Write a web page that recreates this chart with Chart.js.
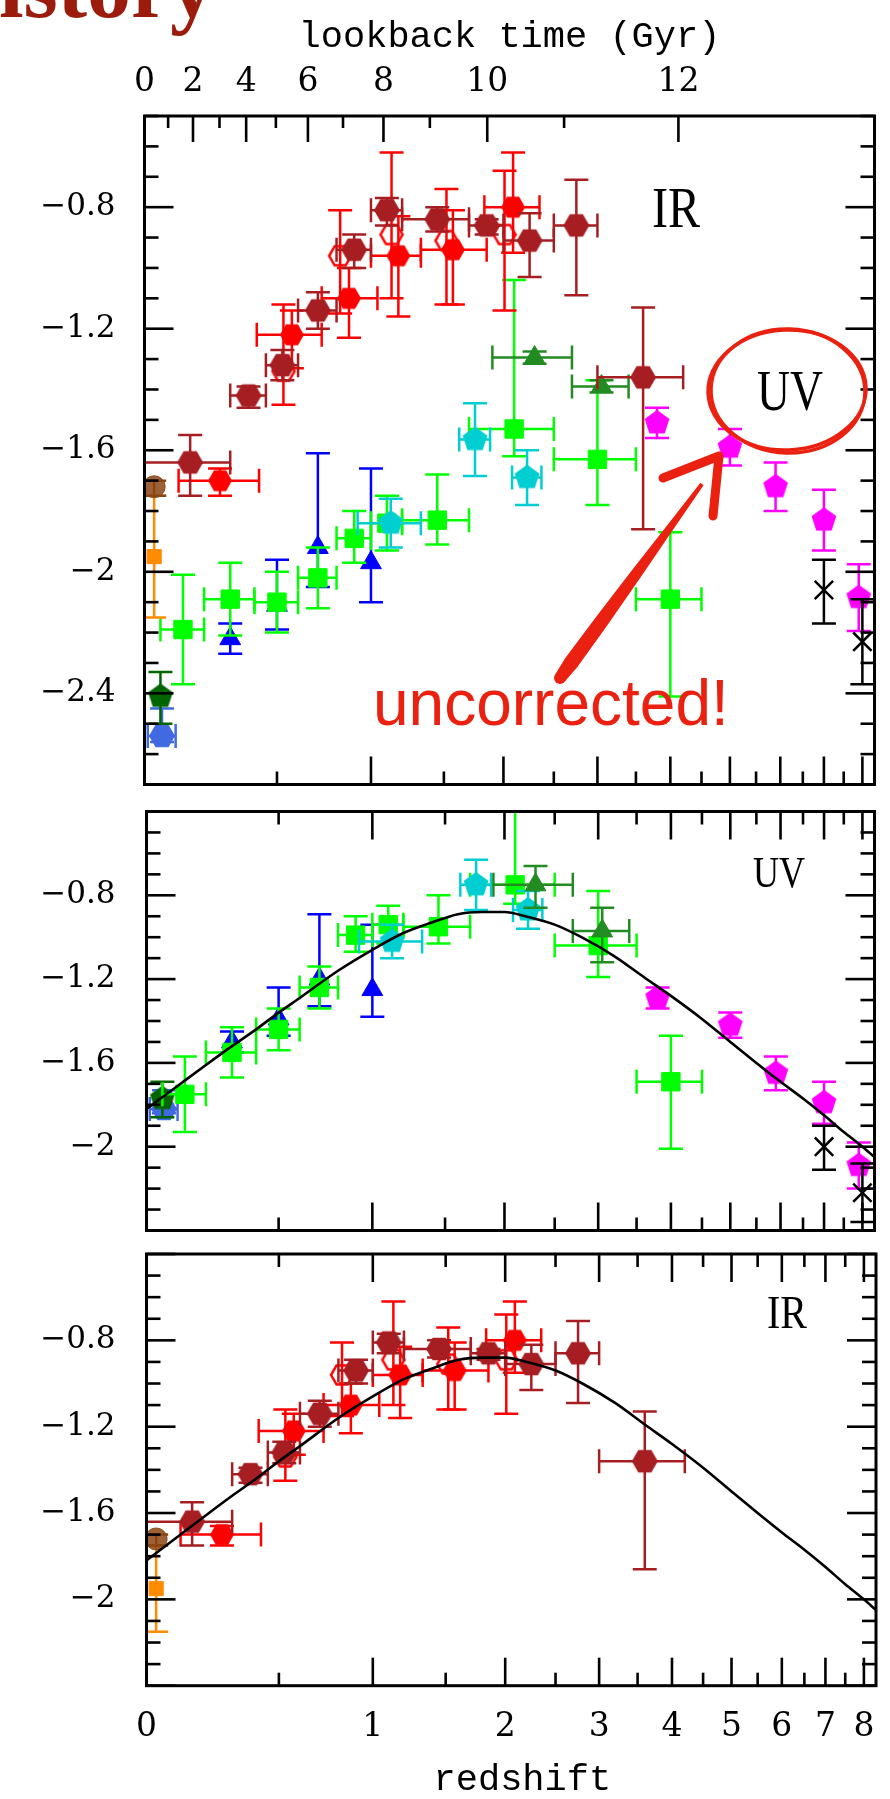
<!DOCTYPE html>
<html>
<head>
<meta charset="utf-8">
<script src="https://cdn.jsdelivr.net/npm/chart.js@4.4.1/dist/chart.umd.min.js"></script>
<style>
  html, body { margin: 0; padding: 0; background: #fff; }
  body { width: 890px; height: 1799px; position: relative; overflow: hidden; }
  canvas { position: absolute; left: 0; }
  #topPanel { top: 0; }
  #uvPanel { top: 796px; }
  #irPanel { top: 1240px; }
</style>
</head>
<body>
<canvas id="topPanel" width="890" height="800"></canvas>
<canvas id="uvPanel" width="890" height="450"></canvas>
<canvas id="irPanel" width="890" height="559"></canvas>
<script>
// ---- axis ticks ----
const zMajor = [0, 1, 2, 3, 4, 5, 6, 7, 8];
const zMinor = [0.5, 1.5, 2.5, 3.5, 4.5, 5.5, 6.5, 7.5];
const lookbackGyr = [0, 1, 2, 3, 4, 5, 6, 7, 8, 9, 10, 11, 12];
const lookbackZ = [0, 0.075, 0.16, 0.258, 0.365, 0.495, 0.649, 0.836, 1.078, 1.395, 1.855, 2.612, 4.125];
const yTicksTop = [-0.8, -1.2, -1.6, -2, -2.4];
const yTicksLow = [-0.8, -1.2, -1.6, -2];

// ---- UV data (log SFR density), z = redshift ----
const wyderZ = [0.055], wyderZlo = [0.01], wyderZhi = [0.1];
const wyderRaw = [-2.54], wyderCorr = [-1.82], wyderUp = [0.09], wyderDn = [0.02];

const robothamZ = [0.05];
const robothamRaw = [-2.41], robothamCorr = [-1.77], robothamUp = [0.08], robothamDn = [0.09];

const schimZ = [0.3, 0.5, 0.7, 1.0];
const schimRaw = [-2.22, -2.11, -1.92, -1.97];
const schimCorr = [-1.50, -1.39, -1.20, -1.25];
const schimUp = [0.05, 0.15, 0.31, 0.31], schimDn = [0.05, 0.08, 0.13, 0.13];

const cucciatiZ = [0.125, 0.3, 0.5, 0.7, 0.9, 1.1, 1.45, 2.1, 3.0, 4.0];
const cucciatiZlo = [0.05, 0.2, 0.4, 0.6, 0.8, 1.0, 1.2, 1.7, 2.5, 3.5];
const cucciatiZhi = [0.2, 0.4, 0.6, 0.8, 1.0, 1.2, 1.7, 2.5, 3.5, 4.5];
const cucciatiRaw = [-2.19, -2.09, -2.10, -2.02, -1.89, -1.84, -1.83, -1.53, -1.63, -2.09];
const cucciatiCorr = [-1.75, -1.55, -1.44, -1.24, -0.99, -0.94, -0.95, -0.75, -1.04, -1.69];
const cucciatiUp = [0.18, 0.12, 0.10, 0.10, 0.09, 0.09, 0.15, 0.49, 0.26, 0.22];
const cucciatiDn = [0.18, 0.12, 0.10, 0.10, 0.08, 0.09, 0.08, 0.09, 0.15, 0.32];

const dahlenZ = [1.125, 1.75, 2.225], dahlenZlo = [0.92, 1.62, 2.08], dahlenZhi = [1.33, 1.88, 2.37];
const dahlenRaw = [-1.84, -1.565, -1.69], dahlenCorr = [-1.02, -0.75, -0.87];
const dahlenUp = [0.08, 0.12, 0.09], dahlenDn = [0.08, 0.12, 0.09];

const reddyZ = [2.3, 3.05], reddyZlo = [1.9, 2.7], reddyZhi = [2.7, 3.4];
const reddyRaw = [-1.295, -1.39], reddyRawErr = [0.02, 0.02];
const reddyCorr = [-0.75, -0.97], reddyUp = [0.09, 0.11], reddyDn = [0.11, 0.15];

const bouwensZ = [3.8, 5.0, 5.9, 7.0, 7.9];
const bouwensRaw = [-1.51, -1.59, -1.72, -1.83, -2.085];
const bouwensCorr = [-1.29, -1.42, -1.65, -1.79, -2.09];
const bouwensErr = [0.05, 0.06, 0.08, 0.10, 0.11];

const schenkerZ = [7.0, 8.0];
const schenkerRaw = [-2.06, -2.23], schenkerCorr = [-2.00, -2.22];
const schenkerUp = [0.10, 0.14], schenkerDn = [0.11, 0.14];

// ---- IR data ----
const sandersZ = [0.03], sandersVal = [-1.72], sandersUp = [0.02], sandersDn = [0.03];
const takeuchiZ = [0.03], takeuchiVal = [-1.95], takeuchiErr = [0.20];

const magnelli11Z = [0.53, 0.82, 1.13, 1.52, 2.01];
const magnelli11Val = [-1.34, -0.96, -0.89, -0.91, -0.89];
const magnelli11Up = [0.22, 0.15, 0.27, 0.17, 0.21], magnelli11Dn = [0.11, 0.19, 0.21, 0.21, 0.25];

const magnelli13Z = [0.26, 0.57, 0.87, 1.175, 1.57, 2.09];
const magnelli13Zlo = [0.11, 0.41, 0.72, 1.0, 1.33, 1.83];
const magnelli13Zhi = [0.42, 0.72, 1.04, 1.33, 1.85, 2.35];
const magnelli13Val = [-1.70, -1.22, -1.10, -0.96, -0.94, -0.80];
const magnelli13Up = [0.04, 0.08, 0.10, 0.13, 0.13, 0.18], magnelli13Dn = [0.05, 0.11, 0.13, 0.20, 0.18, 0.15];

const gruppZ = [0.15, 0.375, 0.525, 0.7, 0.9, 1.1, 1.45, 1.85, 2.25, 2.75, 3.6];
const gruppZlo = [0, 0.3, 0.45, 0.6, 0.8, 1.0, 1.2, 1.7, 2.0, 2.5, 3.0];
const gruppZhi = [0.3, 0.45, 0.6, 0.8, 1.0, 1.2, 1.7, 2.0, 2.5, 3.0, 4.2];
const gruppVal = [-1.64, -1.42, -1.32, -1.14, -0.94, -0.81, -0.84, -0.86, -0.91, -0.86, -1.36];
const gruppUp = [0.09, 0.03, 0.05, 0.06, 0.05, 0.04, 0.04, 0.02, 0.09, 0.15, 0.23];
const gruppDn = [0.11, 0.04, 0.05, 0.06, 0.06, 0.05, 0.04, 0.03, 0.12, 0.23, 0.50];

// ---- fit curve ----
const curveZ = [0, 0.1, 0.2, 0.3, 0.4, 0.5, 0.6, 0.8, 1.0, 1.2, 1.4, 1.6, 1.8, 2.0, 2.2, 2.5, 2.8, 3.2, 3.6, 4.0, 4.5, 5.0, 5.5, 6.0, 6.5, 7.0, 7.5, 8.0, 8.34];
const curveVal = [-1.82, -1.71, -1.61, -1.52, -1.44, -1.36, -1.29, -1.16, -1.06, -0.98, -0.93, -0.89, -0.88, -0.88, -0.90, -0.94, -1.00, -1.09, -1.19, -1.28, -1.39, -1.50, -1.60, -1.69, -1.77, -1.85, -1.93, -2.00, -2.05];

const X_MAX = 9.34;
const NUM_FONT = 'DejaVu Serif';
const TITLE_FONT = 'Liberation Mono';

function pts(z, v, up, dn, zLo, zHi) {
  return z.map((zz, i) => ({
    x: 1 + zz,
    y: v[i],
    yMax: up ? v[i] + up[i] : null,
    yMin: dn ? v[i] - dn[i] : null,
    xMin: zLo ? 1 + zLo[i] : null,
    xMax: zHi ? 1 + zHi[i] : null
  }));
}

function polyMarker(sides, r, startDeg, fill, stroke) {
  const s = Math.ceil(2 * r + 6);
  const c = document.createElement('canvas');
  c.width = s; c.height = s;
  const g = c.getContext('2d');
  g.beginPath();
  for (let k = 0; k < sides; k++) {
    const a = (startDeg + k * 360 / sides) * Math.PI / 180;
    const px = s / 2 + r * Math.cos(a), py = s / 2 + r * Math.sin(a);
    if (k === 0) g.moveTo(px, py); else g.lineTo(px, py);
  }
  g.closePath();
  if (fill) { g.fillStyle = fill; g.fill(); }
  if (stroke) { g.strokeStyle = stroke; g.lineWidth = 2.5; g.stroke(); }
  return c;
}

function marks(label, data, style, color, r, extra) {
  return Object.assign({
    label: label, data: data, showLine: false,
    pointStyle: style, pointRadius: r, pointHoverRadius: r,
    backgroundColor: color, borderColor: color, borderWidth: 1,
    errColor: color
  }, extra || {});
}

// bottom-to-top drawing order; Chart.js draws low "order" last
function stack(list) {
  list.forEach((d, i) => { d.order = list.length - i; });
  return list;
}

const hexBrown = polyMarker(6, 13, 0, '#a61e22');
const hexRed = polyMarker(6, 12, 0, '#ff0000');
const hexOpen = polyMarker(6, 11, 0, null, '#ff0000');
const hexRoyal = polyMarker(6, 13, 0, '#4169e1');
const pentDkGreen = polyMarker(5, 13, -90, '#006400');
const pentCyan = polyMarker(5, 13, -90, '#00ced1');
const pentMagenta = polyMarker(5, 13, -90, '#ff00ff');

function irSets() {
  return [
    marks('Takeuchi', pts(takeuchiZ, takeuchiVal, takeuchiErr, takeuchiErr), 'rect', '#ff8c00', 10),
    marks('Sanders', pts(sandersZ, sandersVal, sandersUp, sandersDn), 'circle', 'rgba(139,69,19,0.85)', 11, { errColor: '#8b4513' }),
    marks('Magnelli 2011', pts(magnelli11Z, magnelli11Val, magnelli11Up, magnelli11Dn), hexOpen, '#ff0000', 11),
    marks('Magnelli 2013', pts(magnelli13Z, magnelli13Val, magnelli13Up, magnelli13Dn, magnelli13Zlo, magnelli13Zhi), hexRed, '#ff0000', 12),
    marks('Gruppioni', pts(gruppZ, gruppVal, gruppUp, gruppDn, gruppZlo, gruppZhi), hexBrown, '#a61e22', 13)
  ];
}

function uvSets(useRaw) {
  return [
    marks('Wyder', pts(wyderZ, useRaw ? wyderRaw : wyderCorr, wyderUp, wyderDn, wyderZlo, wyderZhi), hexRoyal, '#4169e1', 13),
    marks('Schiminovich', pts(schimZ, useRaw ? schimRaw : schimCorr, schimUp, schimDn), 'triangle', '#0000ff', 12),
    marks('Robotham', pts(robothamZ, useRaw ? robothamRaw : robothamCorr, robothamUp, robothamDn), pentDkGreen, '#006400', 13),
    marks('Cucciati', pts(cucciatiZ, useRaw ? cucciatiRaw : cucciatiCorr, cucciatiUp, cucciatiDn, cucciatiZlo, cucciatiZhi), 'rect', '#00ff00', 13),
    marks('Dahlen', pts(dahlenZ, useRaw ? dahlenRaw : dahlenCorr, dahlenUp, dahlenDn, dahlenZlo, dahlenZhi), pentCyan, '#00ced1', 13),
    marks('Reddy', pts(reddyZ, useRaw ? reddyRaw : reddyCorr, useRaw ? reddyRawErr : reddyUp, useRaw ? reddyRawErr : reddyDn, reddyZlo, reddyZhi), 'triangle', '#228b22', 12),
    marks('Bouwens', pts(bouwensZ, useRaw ? bouwensRaw : bouwensCorr, bouwensErr, bouwensErr), pentMagenta, '#ff00ff', 13),
    marks('Schenker', pts(schenkerZ, useRaw ? schenkerRaw : schenkerCorr, schenkerUp, schenkerDn), 'crossRot', '#000000', 13, { borderWidth: 2.5 })
  ];
}

function curveSet() {
  return {
    label: 'fit', order: 0, showLine: true, fill: false,
    data: curveZ.map((z, i) => ({ x: 1 + z, y: curveVal[i] })),
    borderColor: '#000', borderWidth: 2.6, pointRadius: 0,
    cubicInterpolationMode: 'monotone'
  };
}

// ---- plugins ----
const errorBars = {
  id: 'errorBars',
  beforeDatasetDraw(chart, args) {
    const ds = chart.data.datasets[args.index];
    if (!ds.errColor) return;
    const ctx = chart.ctx, a = chart.chartArea;
    const xs = chart.scales.x, ys = chart.scales.y;
    const cap = 12;
    ctx.save();
    ctx.beginPath();
    ctx.rect(a.left, a.top, a.right - a.left, a.bottom - a.top);
    ctx.clip();
    ctx.strokeStyle = ds.errColor;
    ctx.lineWidth = 2.5;
    ds.data.forEach(d => {
      const px = xs.getPixelForValue(d.x), py = ys.getPixelForValue(d.y);
      ctx.beginPath();
      if (d.yMin !== null) {
        const y1 = ys.getPixelForValue(d.yMax), y2 = ys.getPixelForValue(d.yMin);
        ctx.moveTo(px, y1); ctx.lineTo(px, y2);
        ctx.moveTo(px - cap, y1); ctx.lineTo(px + cap, y1);
        ctx.moveTo(px - cap, y2); ctx.lineTo(px + cap, y2);
      }
      if (d.xMin !== null) {
        const x1 = xs.getPixelForValue(d.xMin), x2 = xs.getPixelForValue(d.xMax);
        ctx.moveTo(x1, py); ctx.lineTo(x2, py);
        ctx.moveTo(x1, py - cap); ctx.lineTo(x1, py + cap);
        ctx.moveTo(x2, py - cap); ctx.lineTo(x2, py + cap);
      }
      ctx.stroke();
    });
    ctx.restore();
  }
};

const panelFrame = {
  id: 'panelFrame',
  afterDraw(chart, args, opts) {
    const ctx = chart.ctx, a = chart.chartArea;
    const xs = chart.scales.x, ys = chart.scales.y;
    const tick = (x1, y1, x2, y2) => { ctx.beginPath(); ctx.moveTo(x1, y1); ctx.lineTo(x2, y2); ctx.stroke(); };
    ctx.save();
    ctx.strokeStyle = '#000';
    ctx.lineWidth = 2.6;
    zMajor.forEach(z => {
      const px = xs.getPixelForValue(1 + z);
      tick(px, a.bottom, px, a.bottom - 28);
      if (!opts.lookback) tick(px, a.top, px, a.top + 28);
    });
    zMinor.forEach(z => {
      const px = xs.getPixelForValue(1 + z);
      tick(px, a.bottom, px, a.bottom - 13);
      if (!opts.lookback) tick(px, a.top, px, a.top + 13);
    });
    if (opts.lookback) {
      const xt = chart.scales.xt;
      lookbackZ.forEach((z, i) => {
        const px = xt.getPixelForValue(1 + z);
        tick(px, a.top, px, a.top + (lookbackGyr[i] % 2 === 0 ? 26 : 12));
      });
    }
    for (let k = Math.round(ys.max * 10); k >= Math.round(ys.min * 10); k--) {
      const py = ys.getPixelForValue(k / 10);
      const len = k % 4 === 0 ? 29 : 14;
      tick(a.left, py, a.left + len, py);
      tick(a.right, py, a.right - len, py);
    }
    ctx.lineWidth = 3;
    ctx.strokeRect(a.left, a.top, a.right - a.left, a.bottom - a.top);
    ctx.restore();
  }
};

function squeezedText(ctx, text, x, yBase, size, sx) {
  ctx.save();
  ctx.translate(x, yBase);
  ctx.scale(sx, 1);
  ctx.font = size + 'px "Liberation Serif"';
  ctx.textAlign = 'left';
  ctx.textBaseline = 'alphabetic';
  ctx.fillStyle = '#000';
  ctx.fillText(text, 0, 0);
  ctx.restore();
}

const topNotes = {
  id: 'topNotes',
  afterDraw(chart) {
    const ctx = chart.ctx;
    ctx.save();
    // slide title, cut by the top edge
    ctx.fillStyle = '#9b1c0c';
    ctx.font = 'bold 88px "Liberation Serif"';
    ctx.textAlign = 'right';
    ctx.textBaseline = 'alphabetic';
    ctx.fillText('History', 214, 17);

    squeezedText(ctx, 'IR', 652, 227, 56, 0.86);
    squeezedText(ctx, 'UV', 757, 410, 56, 0.815);

    const red = '#ea2110';
    ctx.strokeStyle = red;
    ctx.fillStyle = red;
    ctx.lineWidth = 3.5;
    ctx.beginPath(); ctx.ellipse(787, 390, 79, 60, -0.04, 0, 2 * Math.PI); ctx.stroke();
    ctx.beginPath(); ctx.ellipse(788, 391, 77, 62, 0.03, 0, 2 * Math.PI); ctx.stroke();

    // hand-drawn arrow: tapered shaft then head
    const x0 = 560, y0 = 678, x1 = 702, y1 = 484;
    const dx = x1 - x0, dy = y1 - y0, L = Math.hypot(dx, dy);
    const nx = -dy / L, ny = dx / L;
    const prof = [[0, 6], [0.08, 7.5], [0.3, 7], [0.55, 5.5], [0.8, 3.5], [1, 2]];
    ctx.beginPath();
    prof.forEach(([t, w], k) => {
      const px = x0 + dx * t + nx * w, py = y0 + dy * t + ny * w;
      if (k === 0) ctx.moveTo(px, py); else ctx.lineTo(px, py);
    });
    prof.slice().reverse().forEach(([t, w]) => ctx.lineTo(x0 + dx * t - nx * w, y0 + dy * t - ny * w));
    ctx.closePath();
    ctx.fill();
    ctx.beginPath(); ctx.arc(x0, y0, 6, 0, 2 * Math.PI); ctx.fill();
    ctx.lineWidth = 9;
    ctx.lineCap = 'round';
    ctx.lineJoin = 'round';
    ctx.beginPath(); ctx.moveTo(663, 478); ctx.lineTo(719, 456); ctx.lineTo(713, 516); ctx.stroke();

    ctx.font = '64px "Liberation Sans"';
    ctx.textAlign = 'left';
    ctx.fillText('uncorrected!', 373, 725);
    ctx.restore();
  }
};

const uvNote = { id: 'uvNote', afterDraw(chart) { squeezedText(chart.ctx, 'UV', 753, 91, 44, 0.82); } };
const irNote = { id: 'irNote', afterDraw(chart) { squeezedText(chart.ctx, 'IR', 767, 88, 47, 0.85); } };

// ---- axes ----
const noGrid = { display: false, drawTicks: false };

// keep Chart.js from reserving label overhang around the plot area
function noOverhang(s) {
  s.paddingLeft = 0; s.paddingRight = 0; s.paddingTop = 0; s.paddingBottom = 0;
}

function zAxis(show) {
  return {
    type: 'logarithmic', position: 'bottom', min: 1, max: X_MAX, display: show,
    grid: noGrid, border: { display: false },
    afterFit: s => { if (show) s.height = 113.3; noOverhang(s); },
    afterBuildTicks: s => { s.ticks = zMajor.map(z => ({ value: 1 + z })); },
    ticks: {
      autoSkip: false, maxRotation: 0, minRotation: 0, padding: 21.8, color: '#000',
      font: { family: NUM_FONT, size: 33 },
      callback: v => String(Math.round(v - 1))
    },
    title: {
      display: show, text: ' redshift', color: '#000',
      font: { family: TITLE_FONT, size: 37, lineHeight: 1 }, padding: { top: 0, bottom: 0 }
    }
  };
}

function lookbackAxis() {
  const evenZ = lookbackZ.filter((z, i) => lookbackGyr[i] % 2 === 0);
  const evenGyr = lookbackGyr.filter(g => g % 2 === 0);
  return {
    type: 'logarithmic', position: 'top', min: 1, max: X_MAX,
    grid: noGrid, border: { display: false },
    afterFit: s => { s.height = 116; noOverhang(s); },
    afterBuildTicks: s => { s.ticks = evenZ.map(z => ({ value: 1 + z })); },
    ticks: {
      autoSkip: false, maxRotation: 0, minRotation: 0, padding: 13.9, color: '#000',
      font: { family: NUM_FONT, size: 33 },
      callback: (v, i) => String(evenGyr[i])
    },
    title: {
      display: true, text: 'lookback time (Gyr)', color: '#000',
      font: { family: TITLE_FONT, size: 37, lineHeight: 1 }, padding: { top: 18.5, bottom: 0 }
    }
  };
}

function valueAxis(min, max, ticks, width) {
  return {
    type: 'linear', min: min, max: max,
    grid: noGrid, border: { display: false },
    afterFit: s => { s.width = width; noOverhang(s); },
    afterBuildTicks: s => { s.ticks = ticks.map(v => ({ value: v })); },
    ticks: {
      autoSkip: false, padding: width - 115.5, color: '#000',
      font: { family: NUM_FONT, size: 31 },
      callback: v => (v < 0 ? '\u2212' : '') + Math.abs(Math.round(v * 10) / 10)
    }
  };
}

function baseOptions(padding, scales, frameOpts) {
  return {
    responsive: false, maintainAspectRatio: false, animation: false, events: [],
    layout: { padding: padding },
    plugins: { legend: { display: false }, tooltip: { enabled: false }, panelFrame: frameOpts },
    scales: scales
  };
}

// top panel: uncorrected UV with IR
new Chart(document.getElementById('topPanel'), {
  type: 'scatter',
  data: { datasets: stack(uvSets(true).concat(irSets())) },
  options: baseOptions({ left: 0, right: 10.5, top: 0, bottom: 10 }, {
    x: zAxis(false),
    xt: lookbackAxis(),
    y: valueAxis(-2.7, -0.5, yTicksTop, 144.5)
  }, { lookback: true }),
  plugins: [errorBars, panelFrame, topNotes]
});

// middle panel: dust-corrected UV
new Chart(document.getElementById('uvPanel'), {
  type: 'scatter',
  data: { datasets: stack(uvSets(false)).concat([curveSet()]) },
  options: baseOptions({ left: 0, right: 9, top: 10, bottom: 0 }, {
    x: zAxis(false),
    y: valueAxis(-2.4, -0.4, yTicksLow, 146.5)
  }, { lookback: false }),
  plugins: [errorBars, panelFrame, uvNote]
});

// bottom panel: IR
new Chart(document.getElementById('irPanel'), {
  type: 'scatter',
  data: { datasets: stack(irSets()).concat([curveSet()]) },
  options: baseOptions({ left: 0, right: 9, top: 6, bottom: 0 }, {
    x: zAxis(true),
    y: valueAxis(-2.4, -0.4, yTicksLow, 146.5)
  }, { lookback: false }),
  plugins: [errorBars, panelFrame, irNote]
});
</script>
</body>
</html>
